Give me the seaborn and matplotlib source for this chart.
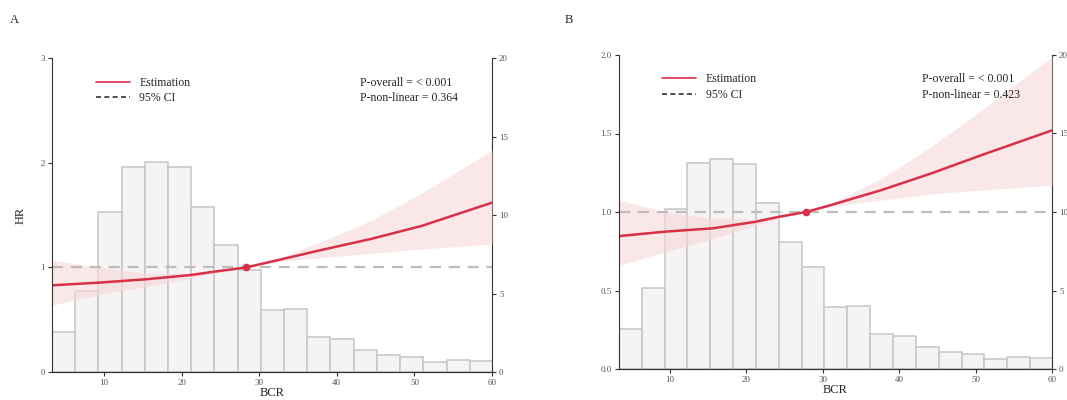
import numpy as np
import pandas as pd
import seaborn as sns
import matplotlib.pyplot as plt
from matplotlib.lines import Line2D

# histogram of BCR (same sample in both panels), right axis scale
counts = [2.55, 5.15, 10.2, 13.1, 13.4, 13.05, 10.55, 8.1, 6.5, 3.95,
          4.0, 2.25, 2.1, 1.38, 1.06, 0.95, 0.63, 0.78, 0.7]
bin_start = 3.3
bin_width = 2.99

# panel A: restricted cubic spline estimate
bcr_a = [3.4, 9.4, 15.4, 21.2, 24.2, 28.3, 31.5, 38.0, 44.4, 50.9, 60.0]
hr_a = [0.83, 0.855, 0.887, 0.928, 0.96, 1.0, 1.055, 1.167, 1.273, 1.397, 1.62]
upper_a = [1.07, 1.0, 0.945, 0.945, 0.97, 1.0, 1.06, 1.247, 1.45, 1.71, 2.12]
lower_a = [0.64, 0.74, 0.816, 0.90, 0.945, 1.0, 1.05, 1.094, 1.136, 1.177, 1.225]
ref_a = 28.3
p_a = ['P-overall = < 0.001', 'P-non-linear = 0.364']

# panel B
bcr_b = [3.4, 9.4, 15.6, 21.2, 24.3, 27.8, 31.1, 37.7, 44.2, 50.8, 60.0]
hr_b = [0.847, 0.875, 0.896, 0.938, 0.97, 1.0, 1.045, 1.14, 1.246, 1.363, 1.52]
upper_b = [1.076, 1.0, 0.96, 0.955, 0.98, 1.0, 1.055, 1.215, 1.416, 1.65, 1.99]
lower_b = [0.662, 0.747, 0.83, 0.915, 0.96, 1.0, 1.035, 1.076, 1.115, 1.14, 1.17]
ref_b = 27.8
p_b = ['P-overall = < 0.001', 'P-non-linear = 0.423']

RED = '#d9304a'

sns.set_style("ticks")
plt.rcParams['font.family'] = ['Liberation Serif', 'DejaVu Serif']

edges = [bin_start + bin_width * i for i in range(len(counts) + 1)]
centers = [(edges[i] + edges[i + 1]) / 2 for i in range(len(counts))]
hist_df = pd.DataFrame({'bcr': centers, 'n': counts})

fig = plt.figure(figsize=(10.67, 4), dpi=100)
ax_a = fig.add_axes([0.0487, 0.07, 0.4125, 0.784])
ax_b = fig.add_axes([0.580, 0.0775, 0.406, 0.785])


def panel(ax, x, hr, lo, up, ref, ptxt, ylim, yticks, ylab):
    ax2 = ax.twinx()
    sns.histplot(data=hist_df, x='bcr', weights='n', bins=edges, ax=ax2,
                 color='#f5f3f4', edgecolor='#c6c6c6', linewidth=1.1, alpha=1)
    ax2.set_ylim(0, 20)
    ax2.set_yticks([0, 5, 10, 15, 20])
    ax2.set_ylabel('')
    ax.set_zorder(ax2.get_zorder() + 1)
    ax.patch.set_visible(False)

    ax.fill_between(x, lo, up, color='#f7d7d7', alpha=0.6, lw=0)
    ax.axhline(1, color='#bdbdbd', ls=(0, (5, 3.5)), lw=1.6)
    sns.lineplot(x=x, y=hr, ax=ax, color=RED, lw=1.8)
    ax.plot([ref], [1], 'o', color=RED, ms=4.5)

    ax.set_xlim(3.3, 60)
    ax.set_ylim(*ylim)
    ax.set_yticks(yticks)
    ax.set_xticks([10, 20, 30, 40, 50, 60])
    ax.set_xlabel('BCR', fontsize=9, labelpad=0)
    ax.set_ylabel(ylab, fontsize=9, labelpad=10)

    for a in (ax, ax2):
        a.spines['top'].set_visible(False)
        a.tick_params(direction='out', length=3, width=0.8, labelsize=6.5,
                      labelcolor='#555555', color='#333333', pad=2)
    ax.spines['right'].set_visible(False)
    ax2.spines['left'].set_visible(False)
    ax.spines['left'].set_color('#333333')
    ax.spines['bottom'].set_color('#333333')
    ax2.spines['right'].set_color('#333333')

    handles = [Line2D([], [], color=RED, lw=1.2),
               Line2D([], [], color='#333333', lw=1.2, ls=(0, (3, 2)))]
    ax.legend(handles, ['Estimation', '95% CI'], loc='upper left',
              bbox_to_anchor=(0.075, 0.975), frameon=False, fontsize=8.5,
              handlelength=2.9, labelspacing=0.3, handletextpad=0.8)
    ax.text(0.70, 0.923, ptxt[0], transform=ax.transAxes, va='center', fontsize=8.5)
    ax.text(0.70, 0.873, ptxt[1], transform=ax.transAxes, va='center', fontsize=8.5)


panel(ax_a, bcr_a, hr_a, lower_a, upper_a, ref_a, p_a, (0, 3), [0, 1, 2, 3], 'HR')
panel(ax_b, bcr_b, hr_b, lower_b, upper_b, ref_b, p_b, (0, 2), [0.0, 0.5, 1.0, 1.5, 2.0], '')

fig.text(10 / 1067, 1 - 20 / 400, 'A', fontsize=9, va='center')
fig.text(565 / 1067, 1 - 20 / 400, 'B', fontsize=9, va='center')

fig.savefig('out.png', dpi=100)
